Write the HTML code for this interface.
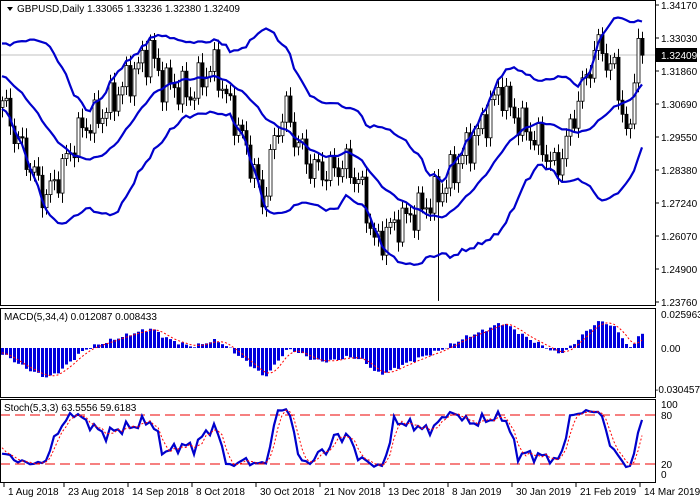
<!DOCTYPE html>
<html><head><meta charset="utf-8"><style>
html,body{margin:0;padding:0;background:#fff;}
svg{display:block;font-family:"Liberation Sans",sans-serif;}
</style></head><body>
<svg id="s" width="700" height="500" xmlns="http://www.w3.org/2000/svg"></svg>
<script>
var S=document.getElementById('s');var out='';
function Y(p){return 5+(1.34170-p)/0.1041*297;}
var pts=[[-160,1.300],[-120,1.318],[-80,1.325],[-40,1.318],[0,1.310],[15,1.296],[30,1.285],[45,1.274],[60,1.283],[80,1.298],[100,1.303],[120,1.312],[140,1.321],[150,1.326],[160,1.315],[175,1.313],[190,1.310],[205,1.318],[215,1.320],[225,1.310],[240,1.297],[255,1.282],[262,1.272],[275,1.296],[285,1.306],[295,1.295],[310,1.285],[325,1.283],[345,1.286],[360,1.279],[375,1.257],[385,1.262],[400,1.266],[420,1.270],[440,1.276],[460,1.288],[480,1.298],[500,1.313],[510,1.305],[520,1.300],[540,1.293],[555,1.284],[565,1.292],[575,1.305],[590,1.321],[600,1.329],[610,1.318],[615,1.321],[620,1.307],[625,1.298],[630,1.300],[635,1.318],[638,1.330],[642,1.3241]];
function interp(x){for(var k=0;k<pts.length-1;k++){if(x>=pts[k][0]&&x<=pts[k+1][0]){var t=(x-pts[k][0])/(pts[k+1][0]-pts[k][0]);return pts[k][1]+t*(pts[k+1][1]-pts[k][1]);}}return pts[pts.length-1][1];}
var C=[],O=[],H=[],L=[],X=[];
var N0=40,N=161;var prev=interp(-162);
for(var i=-N0;i<N;i++){var x=2+4*i;if(x>642)x=642;var c=interp(x)+(i>=N-6?0:0.0045*Math.sin(i*1.7)+0.003*Math.sin(i*3.1));
var o=prev;var h=Math.max(o,c)+0.0015+0.002*Math.abs(Math.sin(i*2.3));var l=Math.min(o,c)-0.0015-0.002*Math.abs(Math.cos(i*1.9));
if(x==438){l=1.238;}
C.push(c);O.push(o);H.push(h);L.push(l);X.push(x);prev=c;}
var T=C.length;
var up=[],md=[],lo=[];
for(var i=0;i<T;i++){if(i<19){up.push(null);md.push(null);lo.push(null);continue;}var s=0;for(var j=i-19;j<=i;j++)s+=C[j];var m=s/20;var v=0;for(var j=i-19;j<=i;j++)v+=(C[j]-m)*(C[j]-m);var sd=Math.sqrt(v/20);md.push(m);up.push(m+2*sd);lo.push(m-2*sd);}
function line(arr,yf,col,w,dash){var d='';var st=false;for(var i=N0;i<T;i++){if(arr[i]==null)continue;d+=(st?'L':'M')+X[i]+','+yf(arr[i]).toFixed(1);st=true;}return '<path d="'+d+'" fill="none" stroke="'+col+'" stroke-width="'+w+'"'+(dash?' stroke-dasharray="'+dash+'"':'')+'/>';}
out+='<line x1="0" y1="55" x2="655" y2="55" stroke="#c0c0c0" stroke-width="1"/>';
for(var i=N0;i<T;i++){var x=X[i]+0.5;out+='<line x1="'+x+'" y1="'+Y(H[i]).toFixed(1)+'" x2="'+x+'" y2="'+Y(L[i]).toFixed(1)+'" stroke="#000"/>';var t=Y(Math.max(O[i],C[i])),b=Y(Math.min(O[i],C[i]));if(b-t<1)b=t+1;out+='<rect x="'+(X[i]-1)+'" y="'+t.toFixed(1)+'" width="3" height="'+(b-t).toFixed(1)+'" fill="'+(C[i]>=O[i]?'#fff':'#000')+'" stroke="#000" stroke-width="0.8"/>';}
out+=line(up,Y,'#0000cc',2.2)+line(md,Y,'#0000cc',2.2)+line(lo,Y,'#0000cc',2.2);
function ema(n){var r=[],k=2/(n+1);r[0]=C[0];for(var i=1;i<T;i++)r[i]=C[i]*k+r[i-1]*(1-k);return r;}
var e5=ema(5),e34=ema(34),mc=[],sg=[];for(var i=0;i<T;i++){mc[i]=e5[i]-e34[i];}for(var i=0;i<T;i++){if(i<3){sg[i]=mc[i];continue;}sg[i]=(mc[i]+mc[i-1]+mc[i-2]+mc[i-3])/4;}
function YM(v){return 348-v*34/0.025963;}
for(var i=N0;i<T;i++){var y=YM(mc[i]);out+='<rect x="'+(X[i]-1)+'" y="'+Math.min(y,348).toFixed(1)+'" width="3" height="'+Math.abs(y-348).toFixed(1)+'" fill="#0000dd"/>';}
out+=line(sg,YM,'#ff0000',1,'2,2');
var K=[],Dd=[];var raw=[];for(var i=0;i<T;i++){var hh=-9,ll=9;for(var j=Math.max(0,i-4);j<=i;j++){hh=Math.max(hh,H[j]);ll=Math.min(ll,L[j]);}raw.push([C[i]-ll,hh-ll]);}
for(var i=0;i<T;i++){var a=0,b=0;for(var j=Math.max(0,i-2);j<=i;j++){a+=raw[j][0];b+=raw[j][1];}K[i]=b>0?100*a/b:50;}
for(var i=0;i<T;i++){Dd[i]=i<2?K[i]:(K[i]+K[i-1]+K[i-2])/3;}
function YS(v){return 474-v*0.7;}
out+='<line x1="0" y1="415" x2="655" y2="415" stroke="#e00" stroke-dasharray="10,5"/><line x1="0" y1="464" x2="655" y2="464" stroke="#e00" stroke-dasharray="10,5"/>';
out+=line(K,YS,'#0000cc',2.2)+line(Dd,YS,'#ff0000',1,'2,2');
out+='<rect x="0.5" y="0.5" width="655" height="305" fill="none" stroke="#000"/><rect x="0.5" y="308.5" width="655" height="89" fill="none" stroke="#000"/><rect x="0.5" y="399.5" width="655" height="83" fill="none" stroke="#000"/>';
var pl=['1.34170','1.33030','1.31860','1.30690','1.29550','1.28380','1.27240','1.26070','1.24900','1.23760'];
for(var k=0;k<pl.length;k++){var y=5+k*33;out+='<line x1="655" y1="'+y+'" x2="659" y2="'+y+'" stroke="#000"/><text x="661" y="'+(y+4)+'" font-size="10">'+pl[k]+'</text>';}
out+='<rect x="656" y="48" width="41" height="14" fill="#000"/><text x="661" y="59" font-size="10" fill="#fff">1.32409</text>';
out+='<text x="661" y="318" font-size="10">0.025963</text><text x="661" y="352" font-size="10">0.00</text><text x="655" y="393" font-size="10">-0.030457</text>';
out+='<text x="661" y="408" font-size="10">100</text><text x="661" y="419" font-size="10">80</text><text x="661" y="468" font-size="10">20</text><text x="661" y="478" font-size="10">0</text>';
var dl=[[4,'1 Aug 2018'],[64,'23 Aug 2018'],[128,'14 Sep 2018'],[192,'8 Oct 2018'],[256,'30 Oct 2018'],[320,'21 Nov 2018'],[384,'13 Dec 2018'],[448,'8 Jan 2019'],[512,'30 Jan 2019'],[576,'21 Feb 2019'],[640,'14 Mar 2019']];
for(var k=0;k<dl.length;k++){out+='<line x1="'+dl[k][0]+'" y1="483" x2="'+dl[k][0]+'" y2="487" stroke="#000"/><text x="'+(dl[k][0]+4)+'" y="495" font-size="10">'+dl[k][1]+'</text>';}
out+='<path d="M7,7 L13,7 L10,11 Z" fill="#000"/><text x="17" y="12" font-size="10">GBPUSD,Daily  1.33065 1.33236 1.32380 1.32409</text>';
out+='<text x="4" y="320" font-size="10">MACD(5,34,4) 0.012087 0.008433</text><text x="4" y="411" font-size="10">Stoch(5,3,3) 63.5556 59.6183</text>';
S.innerHTML=out;
</script>
</body></html>
